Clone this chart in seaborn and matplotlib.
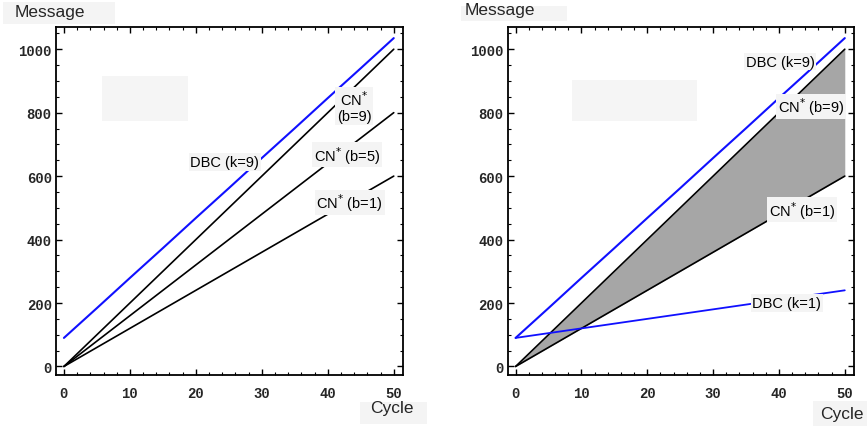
import matplotlib
matplotlib.use("Agg")
import matplotlib.pyplot as plt
import matplotlib.patches as mpatches
from matplotlib.ticker import MultipleLocator
import seaborn as sns
import numpy as np

# ---- data ----
cycles = [0, 5, 10, 15, 20, 25, 30, 35, 40, 45, 50]
dbc_k9 = [90, 184, 279, 373, 468, 562, 657, 751, 846, 940, 1035]
cn_b9 = [0, 100, 200, 300, 400, 500, 600, 700, 800, 900, 1000]
cn_b5 = [0, 80, 160, 240, 320, 400, 480, 560, 640, 720, 800]
cn_b1 = [0, 60, 120, 180, 240, 300, 360, 420, 480, 540, 600]
dbc_k1 = [90, 105, 120, 135, 150, 165, 180, 195, 210, 225, 240]

x_ticks = [0, 10, 20, 30, 40, 50]
y_ticks = [0, 200, 400, 600, 800, 1000]
y_label = "Message"
x_label = "Cycle"

sns.set_style("ticks")
plt.rcParams["font.family"] = ["Liberation Sans", "DejaVu Sans"]

fig = plt.figure(figsize=(8.67, 4.27), dpi=100)
ax1 = fig.add_axes([0.0646, 0.1194, 0.4002, 0.815])
ax2 = fig.add_axes([0.5856, 0.1194, 0.3994, 0.815])

BLUE = "#1010ff"
BOXC = "#f4f4f4"
label_kw = dict(fontsize=10.5, color="black", ha="center", va="center", zorder=6,
                bbox=dict(boxstyle="square,pad=0.12", fc=BOXC, ec="none"))

def style_axes(ax):
    ax.set_xlim(-1.2, 51.4)
    ax.set_ylim(-27, 1070)
    ax.set_xticks(x_ticks)
    ax.set_yticks(y_ticks)
    ax.xaxis.set_minor_locator(MultipleLocator(2))
    ax.yaxis.set_minor_locator(MultipleLocator(50))
    ax.tick_params(which="both", direction="in", top=True, right=True, color="black")
    ax.tick_params(which="major", length=4.5, width=1.0)
    ax.tick_params(which="minor", length=2.5, width=0.8)
    ax.tick_params(axis="x", pad=8)
    ax.tick_params(axis="y", pad=3)
    for lab in ax.get_xticklabels() + ax.get_yticklabels():
        lab.set_fontfamily(["Liberation Mono", "DejaVu Sans Mono"])
        lab.set_fontweight("bold")
        lab.set_fontsize(10)
    for sp in ax.spines.values():
        sp.set_linewidth(1.3)
        sp.set_color("black")
    ax.set_xlabel("")
    ax.set_ylabel("")

# ---- left panel ----
sns.lineplot(x=cycles, y=dbc_k9, ax=ax1, color=BLUE, lw=1.5)
sns.lineplot(x=cycles, y=cn_b9, ax=ax1, color="black", lw=1.2)
sns.lineplot(x=cycles, y=cn_b5, ax=ax1, color="black", lw=1.2)
sns.lineplot(x=cycles, y=cn_b1, ax=ax1, color="black", lw=1.2)
style_axes(ax1)
ax1.text(24.4, 645, "DBC (k=9)", **label_kw)
ax1.text(44.0, 821, "CN$^{*}$\n(b=9)", linespacing=1.1, **label_kw)
ax1.text(42.9, 667, "CN$^{*}$ (b=5)", **label_kw)
ax1.text(43.3, 518, "CN$^{*}$ (b=1)", **label_kw)

# ---- right panel ----
ax2.fill_between(cycles, cn_b1, cn_b9, color="#a6a6a6", lw=0, zorder=1)
sns.lineplot(x=cycles, y=dbc_k9, ax=ax2, color=BLUE, lw=1.5)
sns.lineplot(x=cycles, y=cn_b9, ax=ax2, color="black", lw=1.2)
sns.lineplot(x=cycles, y=cn_b1, ax=ax2, color="black", lw=1.2)
sns.lineplot(x=cycles, y=dbc_k1, ax=ax2, color=BLUE, lw=1.3)
style_axes(ax2)
ax2.text(40.2, 961, "DBC (k=9)", **label_kw)
ax2.text(44.9, 820, "CN$^{*}$ (b=9)", **label_kw)
ax2.text(43.5, 494, "CN$^{*}$ (b=1)", **label_kw)
ax2.text(41.2, 200, "DBC (k=1)", **label_kw)

# ---- axis titles with light boxes (figure pixel coordinates) ----
W, H = 867, 427
def px_rect(x0, y0, x1, y1, color=BOXC, z=0):
    fig.patches.append(mpatches.Rectangle((x0 / W, 1 - y1 / H), (x1 - x0) / W, (y1 - y0) / H,
                                          transform=fig.transFigure, fc=color, ec="none", zorder=z))

px_rect(3, 3, 115, 25)
px_rect(461, 7, 567, 22)
px_rect(360, 403, 427, 425)
px_rect(813, 402, 867, 427)
fig.text(15 / W, 1 - 13 / H, y_label, fontsize=12.5, ha="left", va="center")
fig.text(465 / W, 1 - 10 / H, y_label, fontsize=12.5, ha="left", va="center")
fig.text(370 / W, 1 - 409 / H, x_label, fontsize=12.5, ha="left", va="center")
fig.text(820 / W, 1 - 415 / H, x_label, fontsize=12.5, ha="left", va="center")

# faint leftover boxes inside the panels
for ax, (x0, y0, x1, y1) in [(ax1, (102, 77, 188, 122)), (ax2, (572, 81, 697, 122))]:
    inv = ax.transData.inverted()
    (dx0, dy1) = inv.transform((x0, H - y0))
    (dx1, dy0) = inv.transform((x1, H - y1))
    ax.add_patch(mpatches.Rectangle((dx0, dy0), dx1 - dx0, dy1 - dy0, fc="#f5f5f5", ec="none", zorder=0))

fig.savefig("out.png", dpi=100, facecolor="white")
